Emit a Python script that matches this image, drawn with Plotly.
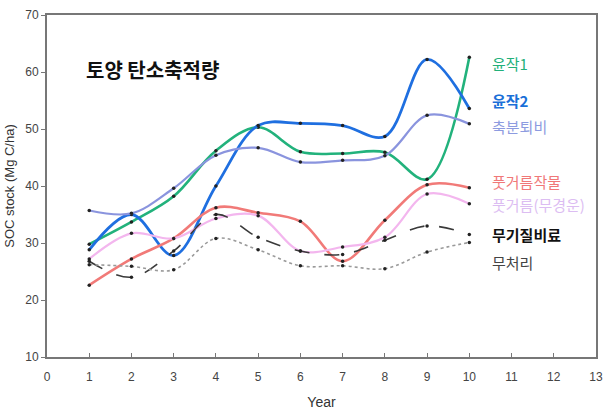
import plotly.graph_objects as go

# Year index and soil organic carbon stock (Mg C/ha) for each treatment
years = [1, 2, 3, 4, 5, 6, 7, 8, 9, 10]

rotation1 = [29.8, 33.7, 38.2, 46.2, 50.3, 46.0, 45.7, 45.9, 41.2, 62.6]
rotation2 = [28.8, 35.0, 27.8, 40.0, 50.6, 51.0, 50.6, 48.7, 62.2, 53.6]
manure = [35.7, 35.2, 39.6, 45.4, 46.7, 44.2, 44.5, 45.3, 52.4, 50.9]
green_manure = [22.6, 27.2, 30.8, 36.2, 35.3, 33.8, 26.8, 34.0, 40.2, 39.7]
green_notill = [27.2, 31.7, 30.8, 34.3, 34.8, 28.6, 29.3, 31.0, 38.6, 36.9]
mineral = [26.8, 24.0, 28.6, 35.0, 31.0, 28.6, 28.0, 30.5, 33.0, 31.5]
control = [26.2, 25.9, 25.3, 30.8, 28.8, 26.0, 26.0, 25.5, 28.4, 30.1]

series_names = ["윤작1", "윤작2", "축분퇴비", "풋거름작물", "풋거름(무경운)", "무기질비료", "무처리"]
series_values = [rotation1, rotation2, manure, green_manure, green_notill, mineral, control]

x_ticks = list(range(0, 14))
y_ticks = [10, 20, 30, 40, 50, 60, 70]

line_colors = ["#22b27c", "#1f6fe0", "#8a94de", "#f17a78", "#f3b6ee", "#3a3a3a", "#9a9a9a"]
line_widths = [2.6, 2.8, 2.2, 2.6, 2.2, 1.6, 1.6]
line_dashes = ["solid", "solid", "solid", "solid", "solid", "longdash", "dot"]
label_colors = ["#22b07a", "#1a6fd8", "#8d9be0", "#f07878", "#dcbdf2", "#111111", "#444444"]
label_weights = ["normal", "bold", "normal", "normal", "normal", "bold", "normal"]
label_y = [61.5, 55.0, 50.4, 40.8, 36.7, 31.5, 26.6]

fig = go.Figure()
for name, vals, col, w, d in zip(series_names, series_values, line_colors, line_widths, line_dashes):
    fig.add_trace(go.Scatter(
        x=years, y=vals, name=name, mode="lines+markers",
        line=dict(color=col, width=w, dash=d, shape="spline", smoothing=1.0),
        marker=dict(color="#222222", size=3.5),
        showlegend=False, hoverinfo="skip",
    ))

for name, col, wgt, yy in zip(series_names, label_colors, label_weights, label_y):
    fig.add_annotation(
        x=10.5, y=yy, xref="x", yref="y", text=name, showarrow=False,
        xanchor="left", yanchor="middle",
        font=dict(family="Noto Sans CJK KR", size=15, color=col, weight=wgt),
    )

fig.add_annotation(
    x=0.88, y=60.4, xref="x", yref="y", text="토양 탄소축적량", showarrow=False,
    xanchor="left", yanchor="middle",
    font=dict(family="Noto Sans CJK KR", size=20, color="#111111", weight="bold"),
)

tick_font = dict(family="Liberation Sans Narrow, Liberation Sans, Arial", size=12, color="#444444")

fig.update_layout(
    width=611, height=416,
    margin=dict(l=46, r=8, t=14, b=57),
    paper_bgcolor="white", plot_bgcolor="white",
    xaxis=dict(
        range=[0, 13], tickvals=x_ticks, ticktext=[str(v) for v in x_ticks],
        showgrid=False, zeroline=False, showline=True, linecolor="#777777", linewidth=2,
        mirror=True, ticks="inside", ticklen=4, tickcolor="#777777",
        tickfont=tick_font, ticklabelstandoff=8,
        title=dict(text="Year", font=dict(family="Liberation Sans Narrow, Liberation Sans, Arial", size=14, color="#333333"), standoff=14),
    ),
    yaxis=dict(
        range=[10, 70], tickvals=y_ticks, ticktext=[str(v) for v in y_ticks],
        showgrid=False, zeroline=False, showline=True, linecolor="#777777", linewidth=2,
        mirror=True, ticks="outside", ticklen=4, tickcolor="#777777",
        tickfont=tick_font,
        title=dict(text="SOC stock (Mg C/ha)", font=dict(family="Liberation Sans, Arial", size=13, color="#333333"), standoff=8),
    ),
)

fig.write_html("out.html")
